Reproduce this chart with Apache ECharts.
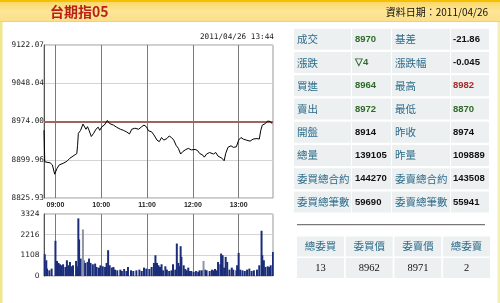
<!DOCTYPE html>
<html><head><meta charset="utf-8">
<script src="https://cdn.jsdelivr.net/npm/echarts@6/dist/echarts.min.js"></script>
<style>html,body{margin:0;padding:0;background:#fff}#c{width:500px;height:303px}</style>
</head><body><div id="c"></div>
<script>
const titleText = '台期指05';
const dateText = '資料日期：2011/04/26';
const stampText = '2011/04/26 13:44';
const prevClose = 8974;
const priceMin = 8825.93, priceMax = 9122.07;
const priceTickLabels = ['8825.93','8899.96','8974.00','9048.04','9122.07'];
const volumeMax = 3324;
const volumeTickLabels = ['0','1108','2216','3324'];

const priceTimes = ['08:45','08:46','08:48','08:53','08:56','08:59','09:02','09:05','09:10','09:15','09:19','09:23','09:28','09:29','09:30','09:33','09:36','09:37','09:40','09:42','09:44','09:47','09:50','09:53','09:56','09:58','10:01','10:04','10:06','10:08','10:11','10:16','10:20','10:25','10:29','10:33','10:37','10:40','10:44','10:49','10:53','10:56','10:59','11:02','11:06','11:09','11:13','11:16','11:19','11:22','11:26','11:29','11:32','11:35','11:38','11:41','11:44','11:47','11:50','11:54','11:58','12:03','12:06','12:09','12:13','12:15','12:18','12:22','12:27','12:30','12:33','12:38','12:41','12:43','12:46','12:50','12:53','12:57','12:58','13:00','13:03','13:06','13:10','13:15','13:19','13:24','13:27','13:29','13:31','13:35','13:38','13:41','13:44'];
const priceValues = [8957,8896,8893,8894,8890,8872,8883,8890,8893,8897,8903,8907,8912,8928,8951,8957,8969,8967,8959,8964,8957,8945,8951,8959,8963,8957,8964,8967,8965,8976,8970,8967,8963,8959,8957,8954,8950,8959,8961,8959,8964,8967,8964,8956,8954,8948,8938,8935,8943,8938,8941,8946,8943,8938,8928,8922,8911,8916,8919,8922,8919,8920,8918,8912,8909,8905,8911,8914,8911,8914,8907,8903,8898,8912,8924,8927,8924,8925,8922,8938,8943,8940,8938,8936,8940,8941,8940,8957,8967,8970,8975,8974,8970];

const volumeTimes = ['08:46','08:48','08:49','08:52','08:55','09:00','09:01','09:02','09:04','09:06','09:08','09:10','09:13','09:15','09:17','09:19','09:21','09:23','09:27','09:29','09:30','09:31','09:33','09:37','09:39','09:42','09:44','09:46','09:49','09:52','09:54','09:57','09:59','10:02','10:05','10:07','10:09','10:11','10:14','10:16','10:18','10:21','10:25','10:27','10:30','10:33','10:35','10:39','10:42','10:46','10:50','10:53','10:56','10:59','11:03','11:06','11:09','11:11','11:13','11:15','11:17','11:19','11:21','11:24','11:26','11:29','11:32','11:34','11:37','11:39','11:41','11:42','11:44','11:45','11:48','11:50','11:52','11:54','11:56','11:58','12:01','12:04','12:07','12:09','12:12','12:16','12:18','12:22','12:25','12:27','12:29','12:31','12:33','12:36','12:37','12:39','12:41','12:43','12:45','12:48','12:51','12:53','12:57','12:58','13:00','13:02','13:05','13:08','13:11','13:14','13:17','13:20','13:24','13:27','13:30','13:31','13:33','13:35','13:38','13:40','13:42','13:45'];
const volumeValues = [1167,844,395,305,395,1886,754,808,700,629,575,629,485,844,575,754,521,575,808,521,3089,1958,934,844,700,754,934,700,629,665,485,449,575,521,485,700,1383,575,449,485,341,305,341,269,377,269,485,305,269,305,341,269,449,395,377,485,700,1113,700,575,485,629,305,521,341,269,305,629,341,1742,700,521,1598,1024,575,377,305,449,269,269,216,269,233,305,305,341,305,269,341,305,377,305,754,629,1203,1113,449,1024,754,341,449,341,305,575,1239,341,305,269,341,395,269,305,341,575,2425,1113,844,485,521,485,575,1293];
const volumeGrayTimes = ['09:36','12:14'];
const volumeGrayValues = [2496,808];

const infoLabelsLeft = ['成交','漲跌','買進','賣出','開盤','總量','委買總合約','委買總筆數'];
const infoValuesLeft = ['8970','▽4','8964','8972','8914','139105','144270','59690'];
const infoLabelsRight = ['基差','漲跌幅','最高','最低','昨收','昨量','委賣總合約','委賣總筆數'];
const infoValuesRight = ['-21.86','-0.045','8982','8870','8974','109889','143508','55941'];
const bookHeaders = ['總委買','委買價','委賣價','總委賣'];
const bookValues = ['13','8962','8971','2'];

// minute categories 08:45 .. 13:45
const timeCategories = [];
for (let m = 8 * 60 + 45; m <= 13 * 60 + 45; m++) {
  timeCategories.push(String(Math.floor(m / 60)).padStart(2, '0') + ':' + String(m % 60).padStart(2, '0'));
}
const isHour = (i, v) => typeof v === 'string' ? v.endsWith(':00') : timeCategories[i] && timeCategories[i].endsWith(':00');

const GREEN = '#2f6a2a', RED = '#a52a2a', BLACK = '#111', TEAL = '#2c6b8a', CELL = '#edf0f1';
const leftValColors = [GREEN, GREEN, GREEN, GREEN, BLACK, BLACK, BLACK, BLACK];
const rightValColors = [BLACK, BLACK, RED, GREEN, BLACK, BLACK, BLACK, BLACK];
const CJK = "'Noto Sans CJK TC'";

const graphics = [];
// header band
graphics.push({type:'rect', shape:{x:0,y:0,width:500,height:22}, style:{fill:new echarts.graphic.LinearGradient(0,0,0,1,[{offset:0,color:'#fbd560'},{offset:0.5,color:'#fde596'},{offset:1,color:'#fce08a'}])}, silent:true});
graphics.push({type:'rect', shape:{x:0,y:0,width:500,height:2}, style:{fill:'#f5c000'}, silent:true});
graphics.push({type:'rect', shape:{x:0,y:21,width:500,height:1}, style:{fill:'#f3d070'}, silent:true});
graphics.push({type:'rect', shape:{x:0,y:22,width:2.5,height:281}, style:{fill:'#f1e68c'}, silent:true});
graphics.push({type:'rect', shape:{x:497.5,y:22,width:2.5,height:281}, style:{fill:'#f5eeb8'}, silent:true});
graphics.push({type:'text', x:50, y:12, style:{text:titleText, font:"bold 14px " + CJK, fill:'#b8201a', verticalAlign:'middle'}, silent:true});
graphics.push({type:'text', x:488, y:12.5, style:{text:dateText, font:"10px " + CJK, fill:'#111', align:'right', verticalAlign:'middle'}, silent:true});
graphics.push({type:'text', x:274, y:37.5, style:{text:stampText, font:"7.7px 'DejaVu Sans Mono'", fill:'#222', align:'right', verticalAlign:'middle'}, silent:true});

// info table
const colX = [294, 352, 392, 451];
const colW = [57, 39, 58, 38];
for (let i = 0; i < infoLabelsLeft.length; i++) {
  const cy = 39.3 + i * 23.24;
  for (let c = 0; c < 4; c++) {
    graphics.push({type:'rect', shape:{x:colX[c], y:cy - 10.5, width:colW[c], height:21}, style:{fill:CELL}, silent:true});
  }
  graphics.push({type:'text', x:297, y:cy, style:{text:infoLabelsLeft[i], font:"10.5px " + CJK, fill:TEAL, verticalAlign:'middle'}, silent:true});
  graphics.push({type:'text', x:355, y:cy, style:{text:infoValuesLeft[i], font:"bold 9.5px 'Liberation Sans'", fill:leftValColors[i], verticalAlign:'middle'}, silent:true});
  graphics.push({type:'text', x:395, y:cy, style:{text:infoLabelsRight[i], font:"10.5px " + CJK, fill:TEAL, verticalAlign:'middle'}, silent:true});
  graphics.push({type:'text', x:453, y:cy, style:{text:infoValuesRight[i], font:"bold 9.5px 'Liberation Sans'", fill:rightValColors[i], verticalAlign:'middle'}, silent:true});
}
// separator
graphics.push({type:'rect', shape:{x:297, y:224, width:188, height:1}, style:{fill:'#777'}, silent:true});
graphics.push({type:'rect', shape:{x:297, y:225, width:188, height:1}, style:{fill:'#ddd'}, silent:true});
// book table
for (let c = 0; c < 4; c++) {
  const x0 = 297 + c * 48.7;
  graphics.push({type:'rect', shape:{x:x0, y:236.5, width:47, height:20}, style:{fill:CELL}, silent:true});
  graphics.push({type:'rect', shape:{x:x0, y:258, width:47, height:20}, style:{fill:CELL}, silent:true});
  graphics.push({type:'text', x:x0 + 23.5, y:246.5, style:{text:bookHeaders[c], font:"10.5px " + CJK, fill:TEAL, align:'center', verticalAlign:'middle'}, silent:true});
  graphics.push({type:'text', x:x0 + 23.5, y:268, style:{text:bookValues[c], font:"10.5px 'Liberation Serif'", fill:'#111', align:'center', verticalAlign:'middle'}, silent:true});
}

const chart = echarts.init(document.getElementById('c'), null, {renderer:'canvas'});
chart.setOption({
  animation: false,
  backgroundColor: '#fff',
  graphic: graphics,
  grid: [
    {left:44, top:45, width:229, height:153, show:true, borderColor:'#999', borderWidth:1, backgroundColor:'#fff'},
    {left:44, top:214, width:229, height:62, show:true, borderColor:'#999', borderWidth:1, backgroundColor:'#fff'}
  ],
  xAxis: [
    {type:'category', gridIndex:0, data:timeCategories, boundaryGap:false,
     axisLine:{show:false}, axisTick:{show:false},
     axisLabel:{interval:isHour, margin:4, fontSize:7, fontWeight:'bold', fontFamily:'Liberation Sans', color:'#222'},
     splitLine:{show:true, interval:isHour, lineStyle:{color:'#7a7a7a', width:1}}},
    {type:'category', gridIndex:1, data:timeCategories, boundaryGap:false,
     axisLine:{show:false}, axisTick:{show:false}, axisLabel:{show:false},
     splitLine:{show:true, interval:isHour, lineStyle:{color:'#7a7a7a', width:1}}}
  ],
  yAxis: [
    {type:'value', gridIndex:0, min:priceMin, max:priceMax, interval:(priceMax - priceMin) / 4,
     axisLine:{show:true, lineStyle:{color:'#555'}}, axisTick:{show:false},
     axisLabel:{margin:0, fontSize:7.7, fontFamily:'DejaVu Sans Mono', color:'#222', formatter:(v, i) => priceTickLabels[i] || ''},
     splitLine:{show:true, lineStyle:{color:'#d4d4d4'}}},
    {type:'value', gridIndex:1, min:0, max:volumeMax, interval:volumeMax / 3,
     axisLine:{show:true, lineStyle:{color:'#555'}}, axisTick:{show:false},
     axisLabel:{margin:4.5, fontSize:7.5, fontFamily:'DejaVu Sans', color:'#222', formatter:(v, i) => volumeTickLabels[i] || ''},
     splitLine:{show:true, lineStyle:{color:'#d4d4d4'}}}
  ],
  series: [
    {type:'line', xAxisIndex:0, yAxisIndex:0, data:priceTimes.map((t, i) => [t, priceValues[i]]),
     symbol:'none', lineStyle:{color:'#000', width:1}, z:5,
     markLine:{silent:true, symbol:'none', label:{show:false}, lineStyle:{color:'#a0645e', width:2, type:'solid'}, data:[{yAxis:prevClose}]}},
    {type:'bar', xAxisIndex:1, yAxisIndex:1, data:volumeTimes.map((t, i) => [t, volumeValues[i]]),
     barWidth:2, barGap:'-100%', itemStyle:{color:'#1b2d7a'}},
    {type:'bar', xAxisIndex:1, yAxisIndex:1, data:volumeGrayTimes.map((t, i) => [t, volumeGrayValues[i]]),
     barWidth:2, barGap:'-100%', itemStyle:{color:'#8f93a8'}}
  ]
});
</script></body></html>
